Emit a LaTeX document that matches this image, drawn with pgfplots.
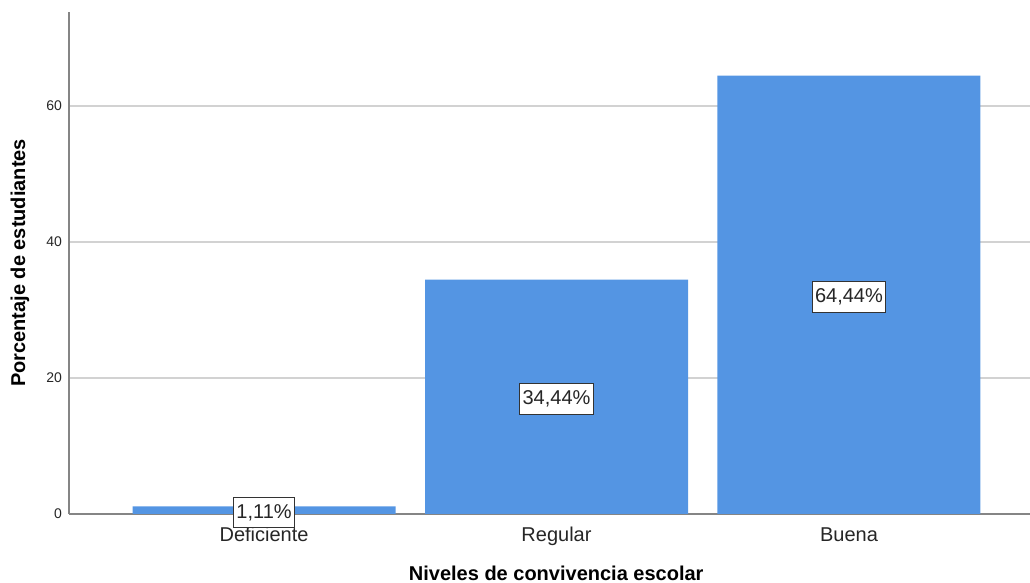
\documentclass[border=0pt]{standalone}
\usepackage{fontspec}
\setmainfont{Liberation Sans}
\usepackage{pgfplots}
\pgfplotsset{compat=1.18}
\definecolor{barblue}{HTML}{5495E3}
\definecolor{axisgray}{HTML}{858585}
\definecolor{gridgray}{HTML}{D2D2D2}
\begin{document}
\begin{tikzpicture}
  \useasboundingbox (-34.5pt,-34.5pt) rectangle (480.5pt,257pt);
  \begin{axis}[
    scale only axis,
    width=480.5pt, height=251pt,
    xmin=-0.667, xmax=2.619,
    ymin=0, ymax=73.8,
    axis x line=bottom, axis y line=left,
    axis line style={-, draw=axisgray, line width=0.75pt},
    major tick length=0pt,
    xtick={0,1,2},
    xticklabels={Deficiente,Regular,Buena},
    ytick={0,20,40,60},
    ymajorgrids=true,
    grid style={gridgray, line width=0.75pt},
    /pgf/number format/assume math mode=true,
    x tick label style={font=\fontsize{10}{12}\selectfont, text=black!85,
      text height=7.5pt, text depth=2pt, yshift=-2.8pt},
    y tick label style={font=\fontsize{7}{8}\selectfont, text=black!85},
    xlabel={\textbf{Niveles de convivencia escolar}},
    ylabel={\textbf{Porcentaje de estudiantes}},
    xlabel style={font=\fontsize{10}{12}\selectfont, at={(axis description cs:0.507,-0.1175)}, anchor=center},
    ylabel style={font=\fontsize{10}{12}\selectfont, at={(axis description cs:-0.051,0.5)}, anchor=center},
    ybar, bar width=131.5pt,
    point meta=explicit symbolic,
    nodes near coords,
    visualization depends on={rawy \as \rawy},
    every node near coord/.style={
      anchor=center, draw=black!80, line width=0.5pt, fill=white,
      text=black!85, inner xsep=1.5pt, inner ysep=3.5pt,
      font=\fontsize{10}{12}\selectfont,
      yshift=-\rawy*1.7005pt-1.2pt},
    ]
    \addplot[fill=barblue, draw=none]
      coordinates {
        (0,1.11) [1,11\%]
        (1,34.44) [34,44\%]
        (2,64.44) [64,44\%]
      };
  \end{axis}
\end{tikzpicture}
\end{document}
